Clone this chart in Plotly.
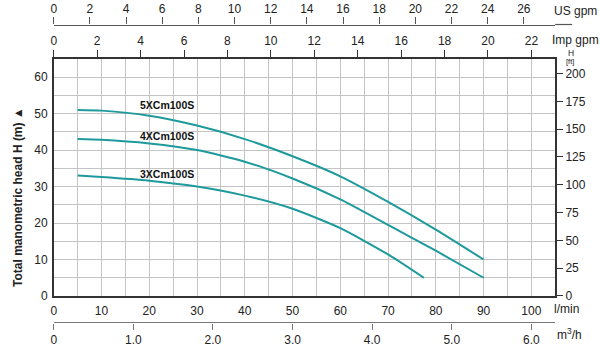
import plotly.graph_objects as go

# ---- data ----
flow_5x = [5, 10, 20, 30, 40, 50, 60, 70, 80, 90]
head_5x = [51, 50.8, 49.4, 46.7, 43, 38.3, 32.8, 25.8, 18.2, 10]
flow_4x = [5, 10, 20, 30, 40, 50, 60, 70, 80, 90]
head_4x = [43, 42.8, 41.8, 40, 36.8, 32.2, 26.5, 19.5, 12.4, 5]
flow_3x = [5, 10, 20, 30, 40, 50, 60, 70, 77.5]
head_3x = [33, 32.6, 31.6, 30, 27.5, 23.9, 18.6, 11.4, 5]
series_names = ["5XCm100S", "4XCm100S", "3XCm100S"]
label_pos = [(23.75, 52.4), (23.75, 43.8), (23.75, 33.5)]

lmin_ticks = list(range(0, 101, 10))
h_ticks = list(range(0, 61, 10))
ft_ticks = list(range(0, 201, 25))
imp_ticks = list(range(0, 23, 2))
us_ticks = list(range(0, 27, 2))
m3h_ticks = [0, 1, 2, 3, 4, 5, 6]
m3h_text = ["0", "1.0", "2.0", "3.0", "4.0", "5.0", "6.0"]

X_MAX = 105
H_MAX = 65
FT_PER_M = 3.28084
IMP_PER_L = 0.219969
US_PER_L = 0.264172
M3H_PER_L = 0.06

W, H = 600, 352
FONT = "Arial, Liberation Sans, sans-serif"
TXT = "#222222"
CURVE = "#1e9a9c"
GRID = "#c4c4c4"
FRAME = "#333333"

fig = go.Figure()
for fx, hy, name in zip([flow_5x, flow_4x, flow_3x], [head_5x, head_4x, head_3x], series_names):
    fig.add_trace(go.Scatter(x=fx, y=hy, mode="lines", name=name,
                             line=dict(color=CURVE, width=2, shape="spline", smoothing=0.6),
                             showlegend=False, hoverinfo="skip"))

# invisible anchors for secondary axes
for xa, ya in [("x2", "y"), ("x3", "y"), ("x4", "y"), ("x", "y2")]:
    fig.add_trace(go.Scatter(x=[0], y=[0], xaxis=xa, yaxis=ya, mode="markers",
                             marker=dict(opacity=0), showlegend=False, hoverinfo="skip"))

x0, x1 = 51 / W, 555 / W
y0, y1 = (H - 302) / H, (H - 60) / H
tickfont = dict(family=FONT, size=12, color=TXT)

fig.update_layout(
    width=W, height=H,
    margin=dict(l=0, r=0, t=0, b=0),
    paper_bgcolor="white", plot_bgcolor="white",
    font=dict(family=FONT, color=TXT),
    xaxis=dict(domain=[x0, x1], range=[0, X_MAX], tickvals=lmin_ticks,
               showgrid=True, gridcolor=GRID, gridwidth=1,
               minor=dict(dtick=5, tick0=0, showgrid=True, gridcolor=GRID, gridwidth=1),
               showline=True, linecolor=FRAME, linewidth=1.5, mirror=False,
               ticks="outside", ticklen=3, tickcolor="rgba(0,0,0,0)",
               tickfont=tickfont, zeroline=False, fixedrange=True),
    yaxis=dict(domain=[y0, y1], range=[0, H_MAX], tickvals=h_ticks,
               showgrid=True, gridcolor=GRID, gridwidth=1,
               minor=dict(dtick=5, tick0=0, showgrid=True, gridcolor=GRID, gridwidth=1),
               showline=True, linecolor=FRAME, linewidth=1.5,
               ticks="outside", ticklen=2, tickcolor="rgba(0,0,0,0)",
               tickfont=tickfont, zeroline=False, fixedrange=True),
    yaxis2=dict(overlaying="y", side="right", anchor="x", range=[0, H_MAX * FT_PER_M],
                tickvals=ft_ticks, showgrid=False, showline=True, linecolor=FRAME, linewidth=1.5,
                ticks="outside", ticklen=6, tickcolor=FRAME, tickfont=tickfont,
                zeroline=False, fixedrange=True),
    xaxis2=dict(overlaying="x", side="top", anchor="y", range=[0, X_MAX * IMP_PER_L],
                tickvals=imp_ticks, showgrid=False, showline=True, linecolor=FRAME, linewidth=1.5,
                ticks="outside", ticklen=7, tickcolor=FRAME, tickfont=tickfont,
                zeroline=False, fixedrange=True),
    xaxis3=dict(overlaying="x", side="top", anchor="free", position=(H - 25) / H,
                range=[0, X_MAX * US_PER_L], tickvals=us_ticks, showgrid=False,
                showline=True, linecolor="#555555", linewidth=1.2,
                ticks="outside", ticklen=7, tickcolor="#555555", tickfont=tickfont,
                zeroline=False, fixedrange=True),
    xaxis4=dict(overlaying="x", side="bottom", anchor="free", position=(H - 329) / H,
                range=[0, X_MAX * M3H_PER_L], tickvals=m3h_ticks, ticktext=m3h_text,
                showgrid=False, showline=True, linecolor="#777777", linewidth=1.2,
                ticks="outside", ticklen=6, tickcolor="#777777", tickfont=tickfont,
                zeroline=False, fixedrange=True),
)

# extension of the US gpm line beyond the frame
fig.add_shape(type="line", xref="paper", yref="paper", x0=x1, x1=572 / W,
              y0=(H - 25) / H, y1=(H - 25) / H, line=dict(color="#555555", width=1.2))

# series labels
for name, (lx, ly) in zip(series_names, label_pos):
    fig.add_annotation(x=lx, y=ly, xref="x", yref="y", text=f"<b>{name}</b>",
                       showarrow=False, font=dict(family=FONT, size=10.5, color="#111111"))

def ptext(px, py, text, size=12, xanchor="center", bold=False, angle=0):
    t = f"<b>{text}</b>" if bold else text
    fig.add_annotation(x=px / W, y=1 - py / H, xref="paper", yref="paper", text=t,
                       showarrow=False, xanchor=xanchor, yanchor="middle", textangle=angle,
                       font=dict(family=FONT, size=size, color=TXT))

ptext(575, 11, "US gpm", 12)
ptext(575, 41, "Imp gpm", 12)
ptext(571, 54, "H", 8.5)
ptext(570, 62.5, "[ft]", 7.5)
ptext(566, 315, "l/min", 12)
ptext(569, 341, "m<sup>3</sup>/h", 12)
ptext(15, 201, "Total manometric head H (m) ▲", 12, bold=True, angle=-90)

fig.write_html("out.html")
